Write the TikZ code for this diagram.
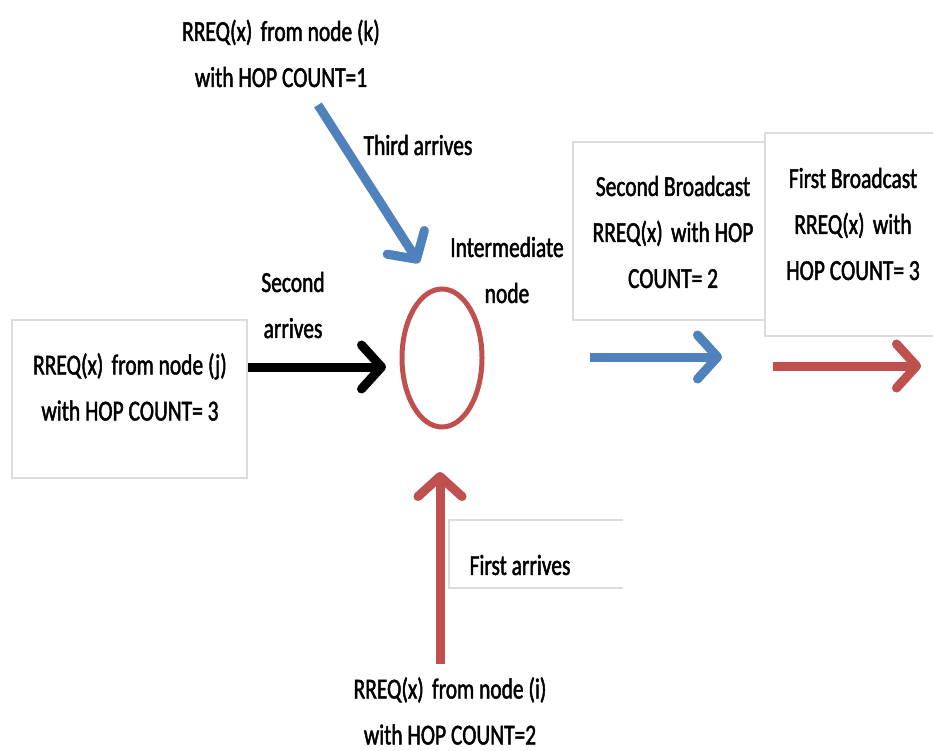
\documentclass[tikz,border=0pt]{standalone}
\usepackage{fontspec}
\setmainfont{Carlito}[FakeStretch=0.74,FakeBold=1.6]
\usetikzlibrary{arrows.meta,shapes.geometric}
\definecolor{aodvblue}{HTML}{4F81BD}
\definecolor{aodvred}{HTML}{C0504D}
\definecolor{boxline}{HTML}{DCDCDC}
\newcommand{\gap}{\hspace{0.12em}}
\tikzset{
  txt/.style={font=\fontsize{29}{46}\selectfont, align=center, inner sep=0pt},
  panel/.style={draw=boxline, line width=2pt, fill=white, inner sep=0pt},
  flow/.style={line width=9pt, -{Straight Barb[length=20pt,width=44pt,round]}},
  flowshadow/.style={flow, draw=black, opacity=0.12, shift={(2pt,-5pt)}},
}
\begin{document}
\begin{tikzpicture}[x=1pt,y=-1pt]
\useasboundingbox (0,0) rectangle (933,751);

% text panels
\node[panel, minimum width=235pt, minimum height=158pt] (jbox) at (129.5,399) {};
\node[txt] (jtext) at (130,387) {RREQ(x)\gap{} from node (j)\\with HOP COUNT= 3};

\node[panel, minimum width=192pt, minimum height=178pt] (bcast2) at (669,231) {};
\node[txt] (bcast2text) at (673,232) {Second Broadcast\\RREQ(x)\gap{} with HOP\\COUNT= 2};

\node[panel, minimum width=190pt, minimum height=203pt] (bcast1) at (860,234.5) {};
\node[txt] (bcast1text) at (853,224) {First Broadcast\\RREQ(x)\gap{} with\\HOP COUNT= 3};

% open-ended label panel: top, left and bottom edges only
\node[panel, draw=none, minimum width=172pt, minimum height=66pt] (firstbox) at (536,554) {};
\draw[boxline, line width=2pt] (firstbox.north east) -- (firstbox.north west)
  -- (firstbox.south west) -- (firstbox.south east);
\node[txt] (firsttext) at (520,565) {First arrives};

% free labels
\node[txt] (ktext) at (281,53.5) {RREQ(x)\gap{} from node (k)\\with HOP COUNT=1};
\node[txt] (itext) at (450,711) {RREQ(x)\gap{} from node (i)\\with HOP COUNT=2};
\node[txt] (third) at (418,145) {Third arrives};
\node[txt] (second) at (293,305) {Second\\arrives};
\node[txt] (inter) at (507,270) {Intermediate\\node};

% intermediate node
\node[ellipse, draw=aodvred, line width=5pt, minimum width=80pt, minimum height=138pt] (hub) at (442,358) {};

% connector end points
\coordinate (kfrom) at (318,105);
\coordinate (kto) at (419,263);
\coordinate (jfrom) at (248,367);
\coordinate (jto) at (386,367);
\coordinate (ifrom) at (440,664);
\coordinate (ito) at (440,472);
\coordinate (out2from) at (590,357);
\coordinate (out2to) at (722,357);
\coordinate (out1from) at (773,366);
\coordinate (out1to) at (921,366);

% soft shadows under the arrows
\draw[flowshadow] (kfrom) -- (kto);
\draw[flowshadow] (jfrom) -- (jto);
\draw[flowshadow] (ifrom) -- (ito);
\draw[flowshadow] (out2from) -- (out2to);
\draw[flowshadow] (out1from) -- (out1to);

% arrows
\draw[flow, draw=aodvblue] (kfrom) -- (kto);
\draw[flow, draw=black] (jfrom) -- (jto);
\draw[flow, draw=aodvred] (ifrom) -- (ito);
\draw[flow, draw=aodvblue] (out2from) -- (out2to);
\draw[flow, draw=aodvred] (out1from) -- (out1to);
\end{tikzpicture}
\end{document}
